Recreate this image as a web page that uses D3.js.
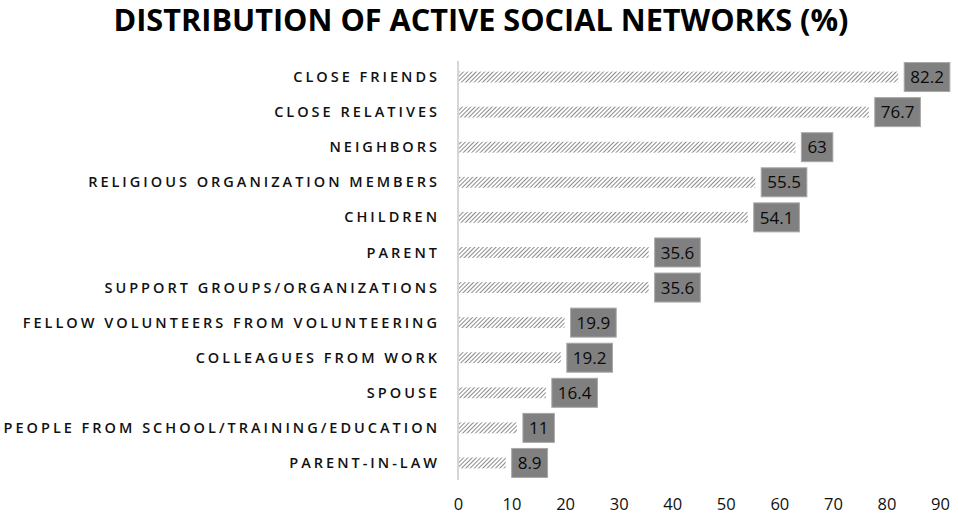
<!DOCTYPE html>
<html>
<head>
<meta charset="utf-8">
<script src="https://cdn.jsdelivr.net/npm/d3@7"></script>
<style>
  body { margin: 0; background: #fff; }
  svg { display: block; }
</style>
</head>
<body>
<div id="chart"></div>
<script>
const categories = [
  'CLOSE FRIENDS', 'CLOSE RELATIVES', 'NEIGHBORS', 'RELIGIOUS ORGANIZATION MEMBERS',
  'CHILDREN', 'PARENT', 'SUPPORT GROUPS/ORGANIZATIONS',
  'FELLOW VOLUNTEERS FROM VOLUNTEERING', 'COLLEAGUES FROM WORK', 'SPOUSE',
  'PEOPLE FROM SCHOOL/TRAINING/EDUCATION', 'PARENT-IN-LAW'
];
const values = [82.2, 76.7, 63, 55.5, 54.1, 35.6, 35.6, 19.9, 19.2, 16.4, 11, 8.9];
const xTicks = [0, 10, 20, 30, 40, 50, 60, 70, 80, 90];

const W = 959, H = 515;
const FONT = "'Open Sans', 'Noto Sans', sans-serif";

const svg = d3.select('#chart').append('svg')
  .attr('width', W).attr('height', H)
  .style('font-family', FONT);

// hatch pattern for the bars
const pat = svg.append('defs').append('pattern')
  .attr('id', 'hatch').attr('patternUnits', 'userSpaceOnUse')
  .attr('width', 3).attr('height', 3)
  .attr('patternTransform', 'rotate(45)');
pat.append('rect').attr('width', 3).attr('height', 3).attr('fill', '#fff');
pat.append('line').attr('x1', 0).attr('y1', 0).attr('x2', 0).attr('y2', 3)
  .attr('stroke', '#6e6e6e').attr('stroke-width', 1.6);

// title
svg.append('text')
  .attr('x', 481).attr('y', 31)
  .attr('text-anchor', 'middle')
  .style('font-size', '30px').style('font-weight', 'bold')
  .attr('textLength', 735).attr('lengthAdjust', 'spacingAndGlyphs')
  .text('DISTRIBUTION OF ACTIVE SOCIAL NETWORKS (%)');

const x = d3.scaleLinear().domain([0, 90]).range([458, 940]);
const y = d3.scaleBand().domain(categories).range([59.5, 480.5])
  .paddingInner(0.69).paddingOuter(0.345);

// axis line
svg.append('line')
  .attr('x1', x(0)).attr('x2', x(0))
  .attr('y1', 61).attr('y2', 480)
  .attr('stroke', '#c8c8c8').attr('stroke-width', 1.5);

// x tick labels
const xAxis = svg.append('g')
  .attr('transform', `translate(0,498)`)
  .call(d3.axisBottom(x).tickValues(xTicks).tickSize(0).tickPadding(0));
xAxis.select('.domain').remove();
xAxis.selectAll('text')
  .style('font-family', FONT)
  .style('font-size', '16.5px').style('fill', '#111');

// category labels
svg.append('g').selectAll('text')
  .data(categories)
  .join('text')
  .attr('x', 440)
  .attr('y', d => y(d) + y.bandwidth() / 2)
  .attr('dy', '0.35em')
  .attr('text-anchor', 'end')
  .style('font-size', '14.5px').style('font-weight', 600)
  .style('letter-spacing', '3px').style('fill', '#111')
  .text(d => d);

// bars
const rows = categories.map((c, i) => ({ cat: c, v: values[i] }));
svg.append('g').selectAll('rect')
  .data(rows)
  .join('rect')
  .attr('x', x(0) + 1)
  .attr('y', d => y(d.cat))
  .attr('width', d => x(d.v) - x(0) - 1)
  .attr('height', y.bandwidth())
  .attr('fill', 'url(#hatch)');

// value boxes
const lab = svg.append('g').selectAll('g')
  .data(rows)
  .join('g')
  .attr('transform', d => `translate(${x(d.v) + 6},${y(d.cat) + y.bandwidth() / 2})`);

lab.append('text')
  .attr('x', 6).attr('dy', '0.36em')
  .style('font-size', '17px').style('font-weight', 500).style('fill', '#0a0a0a')
  .text(d => d.v);

lab.each(function () {
  const g = d3.select(this);
  const w = g.select('text').node().getComputedTextLength();
  g.insert('rect', 'text')
    .attr('x', 0).attr('y', -14.5)
    .attr('width', w + 12).attr('height', 29)
    .attr('fill', '#808080').attr('stroke', '#a8a8a8').attr('stroke-width', 1);
});
</script>
</body>
</html>
